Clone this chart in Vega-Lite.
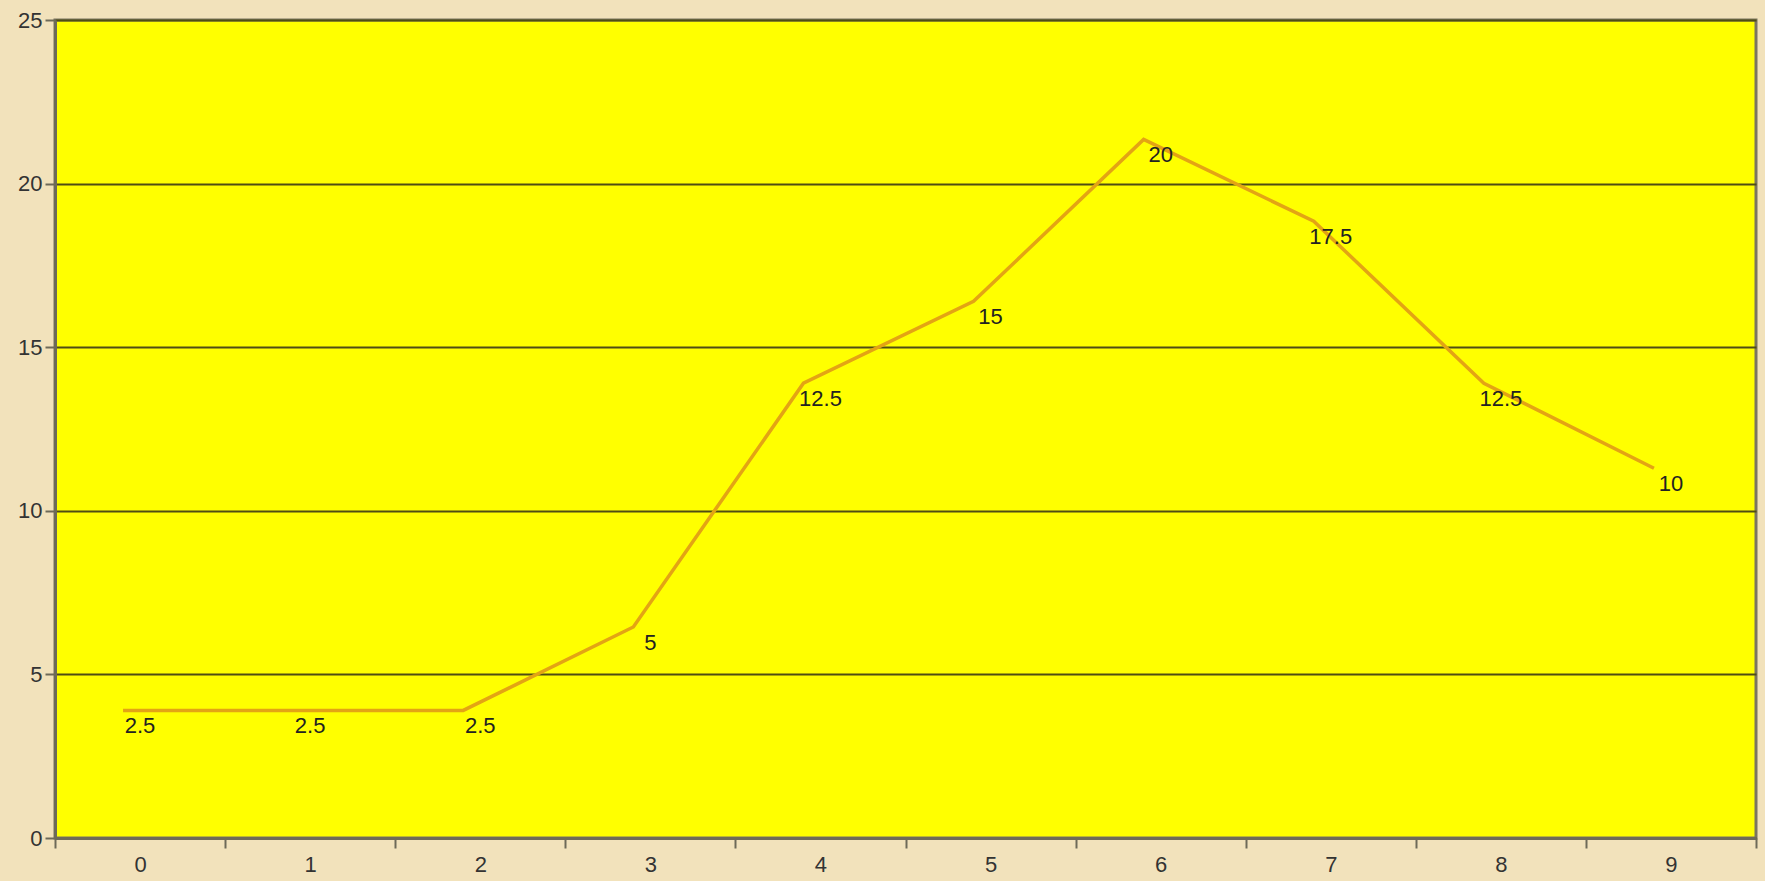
{
  "$schema": "https://vega.github.io/schema/vega-lite/v6.json",
  "width": 1701,
  "height": 818,
  "autosize": {"type": "none"},
  "padding": {"left": 55, "top": 20, "right": 9, "bottom": 43},
  "background": "#f2e2bb",
  "config": {
    "view": {"fill": "#ffff00", "stroke": "#7a7460", "strokeWidth": 3},
    "font": "Liberation Sans"
  },
  "data": {
    "values": [
      {"x": "0", "y": 3.9, "label": "2.5"},
      {"x": "1", "y": 3.9, "label": "2.5"},
      {"x": "2", "y": 3.9, "label": "2.5"},
      {"x": "3", "y": 6.45, "label": "5"},
      {"x": "4", "y": 13.9, "label": "12.5"},
      {"x": "5", "y": 16.4, "label": "15"},
      {"x": "6", "y": 21.35, "label": "20"},
      {"x": "7", "y": 18.85, "label": "17.5"},
      {"x": "8", "y": 13.9, "label": "12.5"},
      {"x": "9", "y": 11.3, "label": "10"}
    ]
  },
  "encoding": {
    "x": {
      "field": "x",
      "type": "ordinal",
      "bandPosition": 0.5,
      "scale": {"type": "band", "paddingInner": 0, "paddingOuter": 0},
      "axis": {
        "title": null,
        "labelAngle": 0,
        "labelFontSize": 22,
        "labelColor": "#333333",
        "labelPadding": 6,
        "tickBand": "extent",
        "tickSize": 10,
        "tickWidth": 2,
        "tickColor": "#6e6a58",
        "domainColor": "#6e6a58",
        "domainWidth": 3,
        "grid": false
      }
    },
    "y": {
      "field": "y",
      "type": "quantitative",
      "scale": {"domain": [0, 25], "nice": false},
      "axis": {
        "title": null,
        "values": [0, 5, 10, 15, 20, 25],
        "labelFontSize": 22,
        "labelColor": "#333333",
        "labelPadding": 3,
        "tickSize": 10,
        "tickWidth": 2,
        "tickColor": "#6e6a58",
        "domainColor": "#6e6a58",
        "domainWidth": 3,
        "gridColor": "#4f4c14",
        "gridWidth": 2,
        "gridOpacity": 1
      }
    }
  },
  "layer": [
    {
      "mark": {"type": "line", "color": "#e3a414", "strokeWidth": 3.5},
      "encoding": {
        "x": {
          "field": "x",
          "type": "ordinal",
          "bandPosition": 0.4
        }
      }
    },
    {
      "mark": {"type": "text", "baseline": "top", "align": "center", "dy": 6, "fontSize": 22, "color": "#222222"},
      "encoding": {"text": {"field": "label"}}
    }
  ]
}
